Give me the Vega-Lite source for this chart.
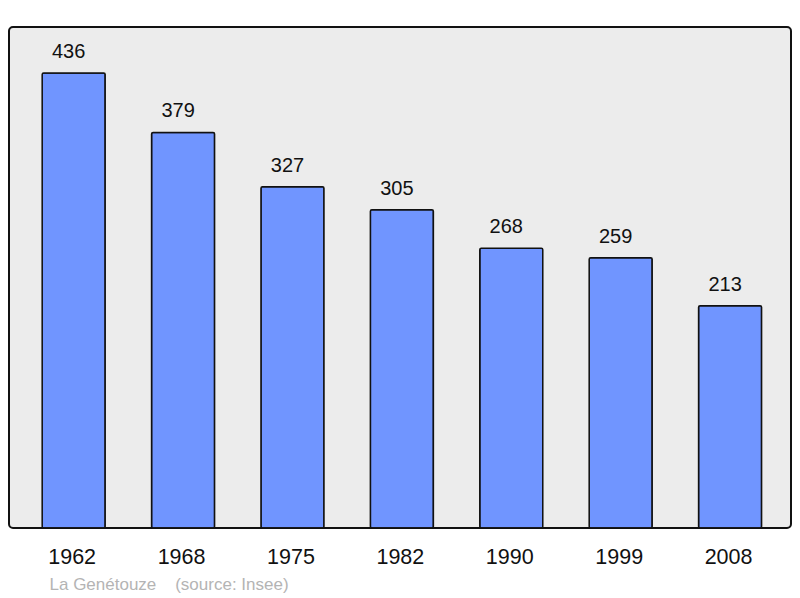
{
  "$schema": "https://vega.github.io/schema/vega-lite/v6.json",
  "autosize": {"type": "none"},
  "padding": {"left": 9, "top": 27, "right": 9, "bottom": 70},
  "width": 782,
  "height": 501,
  "background": "white",
  "config": {
    "font": "Liberation Sans",
    "view": {"fill": "#ececec", "stroke": "#111111", "strokeWidth": 2, "cornerRadius": 4}
  },
  "data": {
    "values": [
      {"year": "1962", "pop": 436},
      {"year": "1968", "pop": 379},
      {"year": "1975", "pop": 327},
      {"year": "1982", "pop": 305},
      {"year": "1990", "pop": 268},
      {"year": "1999", "pop": 259},
      {"year": "2008", "pop": 213}
    ]
  },
  "encoding": {
    "x": {
      "field": "year",
      "type": "ordinal",
      "sort": null,
      "scale": {"paddingInner": 0.424, "paddingOuter": 0.286, "align": 0.53},
      "axis": {
        "title": "La Genétouze\u00a0\u00a0\u00a0\u00a0(source: Insee)",
        "titleX": 40,
        "titleY": 61,
        "titleAlign": "left",
        "titleAnchor": null,
        "titleBaseline": "alphabetic",
        "titleFontSize": 17,
        "titleFontWeight": "normal",
        "titleColor": "#b4b4b4",
        "titleFont": "Liberation Sans",
        "labelAngle": 0,
        "labelFontSize": 21.5,
        "labelColor": "#111111",
        "labelBaseline": "alphabetic",
        "labelPadding": 35,
        "labelOffset": -1.5,
        "ticks": false,
        "domain": false,
        "grid": false
      }
    },
    "y": {
      "field": "pop",
      "type": "quantitative",
      "scale": {"domain": [0, 480], "nice": false},
      "axis": null
    }
  },
  "layer": [
    {
      "mark": {"type": "bar", "color": "#7095ff", "stroke": "#111111", "strokeWidth": 1.5, "cornerRadius": 1.5}
    },
    {
      "mark": {"type": "text", "baseline": "alphabetic", "dy": -15, "dx": -5, "fontSize": 20, "color": "#111111"},
      "encoding": {"text": {"field": "pop", "type": "quantitative"}}
    }
  ]
}
